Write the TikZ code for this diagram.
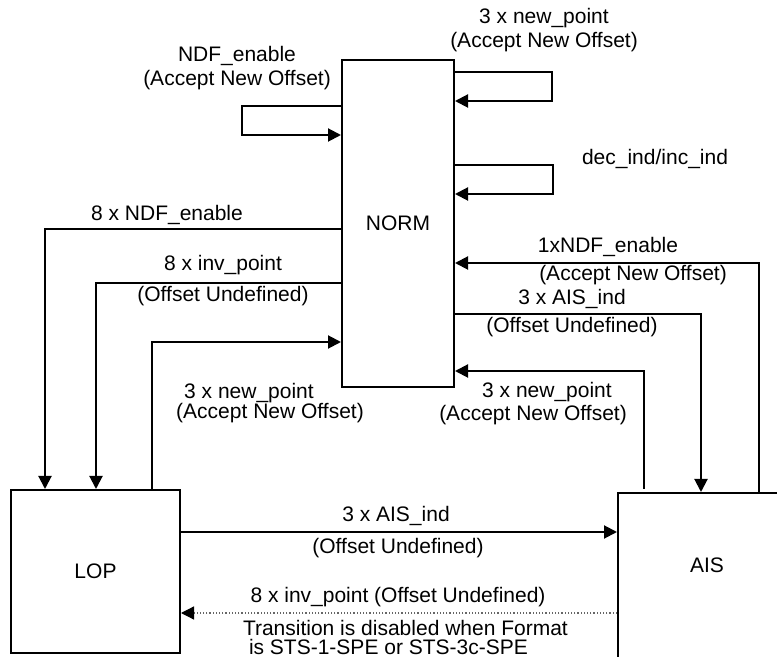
\documentclass[tikz,border=0pt]{standalone}
\usepackage{fontspec}
\setmainfont{Liberation Sans}
\usetikzlibrary{arrows.meta}
\begin{document}
\begin{tikzpicture}[x=0.5pt, y=-0.5pt, font=\fontsize{10.5}{12}\selectfont, line width=1pt, >={Triangle[length=6.5pt,width=6.5pt]},
  state/.style={draw, rectangle, inner sep=0pt},
  lbl/.style={inner sep=0pt, align=center}]
\useasboundingbox (0,0) rectangle (777,657);
\clip (0,0) rectangle (777,657);
\node[state, minimum width=56pt, minimum height=163.5pt] (norm) at (398,223.5) {NORM};
\node[state, minimum width=84.5pt, minimum height=81.5pt] (lop) at (95.5,571.5) {LOP};
\node[state, minimum width=91pt, minimum height=113.5pt] (ais) at (709,606.5) {};
\node[lbl] (aistxt) at (707,565) {AIS};

\draw[->] (norm.west |- 0,106) -- ++(-99,0) |- (norm.west |- 0,135);
\draw[->] (norm.east |- 0,72) -- ++(97,0) |- (norm.east |- 0,101);
\draw[->] (norm.east |- 0,165) -- ++(98,0) |- (norm.east |- 0,194);
\draw[->] (norm.west |- 0,229) -| (lop.north -| 45,0);
\draw[->] (norm.west |- 0,283) -| (lop.north -| 96,0);
\draw[->] (lop.north -| 152,0) |- (norm.west |- 0,342);
\draw[->] (ais.north -| 759,0) |- (norm.east |- 0,263);
\draw[->] (norm.east |- 0,314) -| (ais.north -| 701,0);
\draw[->] ([yshift=1.5pt]ais.north -| 644,0) |- (norm.east |- 0,371);
\draw[->] (lop.east |- 0,532) -- (ais.west |- 0,532);
\draw[-{Triangle[length=6.5pt,width=6.5pt,color=black]}, densely dotted, line width=0.6pt, black!60] (ais.west |- 0,613) -- (lop.east |- 0,613);

\node[lbl] (npt1) at (544,30) {3 x new\_point\\(Accept New Offset)};
\node[lbl] (ndf1) at (237,68.5) {NDF\_enable\\(Accept New Offset)};
\node[lbl] (decinc) at (655,159) {dec\_ind/inc\_ind};
\node[lbl] (ndf8) at (167,215) {8 x NDF\_enable};
\node[lbl] (inv8) at (223,265) {8 x inv\_point};
\node[lbl] (undef1) at (223,296) {(Offset Undefined)};
\node[lbl] (npt2) at (249,393) {3 x new\_point};
\node[lbl] (acc2) at (270,413) {(Accept New Offset)};
\node[lbl] (ndf1x) at (608,247) {1xNDF\_enable};
\node[lbl] (acc3) at (633,275) {(Accept New Offset)};
\node[lbl] (ais3) at (572,299) {3 x AIS\_ind};
\node[lbl] (undef2) at (572,327) {(Offset Undefined)};
\node[lbl] (npt3) at (547,392) {3 x new\_point};
\node[lbl] (acc4) at (533,415) {(Accept New Offset)};
\node[lbl] (ais3b) at (396,516) {3 x AIS\_ind};
\node[lbl] (undef3) at (398,548) {(Offset Undefined)};
\node[lbl] (inv8b) at (398,597) {8 x inv\_point (Offset Undefined)};
\node[lbl, anchor=west, align=left] (note) at (242,637) {Transition is disabled when Format\\[-2.5pt]\hspace{3pt}is STS-1-SPE or STS-3c-SPE};
\end{tikzpicture}
\end{document}
